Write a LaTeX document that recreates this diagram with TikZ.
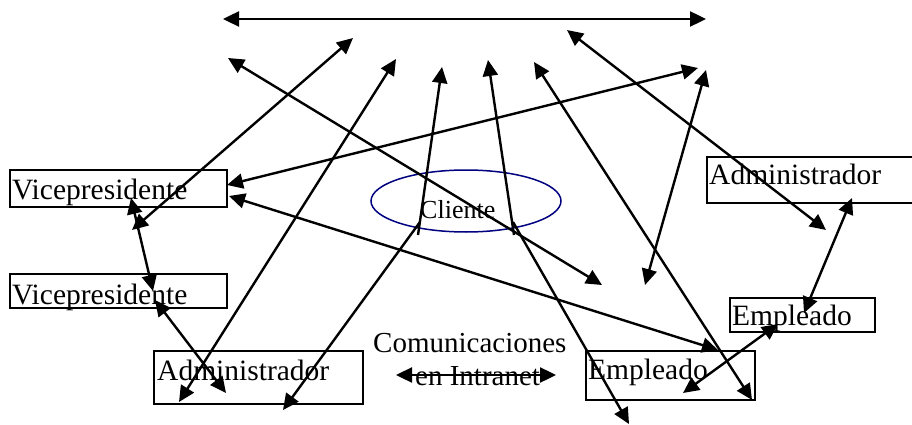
\documentclass[tikz,border=0pt]{standalone}
\usepackage{fontspec}
\setmainfont{Liberation Serif}
\usetikzlibrary{arrows.meta,shapes.geometric}
\definecolor{navy}{RGB}{0,0,128}
\begin{document}
\begin{tikzpicture}[x=1pt,y=-1pt,
  box/.style={draw, line width=1.3pt, inner sep=0pt, outer sep=0pt},
  txt/.style={font=\fontsize{29.5}{30}\selectfont, inner sep=0pt, anchor=base west},
  arr/.style={line width=2.4pt, {Triangle[length=16pt,width=15pt]}-{Triangle[length=16pt,width=15pt]}},
  arrE/.style={line width=2.4pt, -{Triangle[length=16pt,width=15pt]}},
]
\useasboundingbox (0,0) rectangle (912,425);
% boxes
\node[box, minimum width=217pt, minimum height=37pt] (vp1) at (118.5,188.5) {};
\node[box, minimum width=217pt, minimum height=34pt] (vp2) at (118.5,291) {};
\node[box, minimum width=209pt, minimum height=53pt] (adL) at (258.5,377.5) {};
\node[box, minimum width=208pt, minimum height=46pt] (adR) at (811,180) {};
\node[box, minimum width=145pt, minimum height=34pt] (emR) at (802.5,315) {};
\node[box, minimum width=169pt, minimum height=49pt] (emM) at (670.5,375.5) {};
\node[ellipse, draw=navy, line width=1.5pt, minimum width=190pt, minimum height=62pt, inner sep=0pt] (cli) at (466,201) {};
% texts
\node[txt] (vp1t) at (12,199) {Vicepresidente};
\node[txt] (vp2t) at (12,304) {Vicepresidente};
\node[txt] (adLt) at (157,380) {Administrador};
\node[txt] (adRt) at (709,184) {Administrador};
\node[txt] (emRt) at (732,325) {Empleado};
\node[txt] (emMt) at (588,379) {Empleado};
\node[txt, font=\fontsize{26}{27}\selectfont] (cliT) at (420,218) {Cliente};
\node[txt, font=\fontsize{29}{30}\selectfont] (com) at (373,352) {Comunicaciones};
\node[txt, font=\fontsize{29}{30}\selectfont] (intr) at (415,385) {en Intranet};
% arrow end points
\coordinate (a1s) at (223,19);  \coordinate (a1e) at (706,19);
\coordinate (a2s) at (567,30);  \coordinate (a2e) at (826,230);
\coordinate (a3s) at (228,58);  \coordinate (a3e) at (602,285);
\coordinate (a4s) at (353,38);  \coordinate (a4e) at (132,230);
\coordinate (a5s) at (131,198); \coordinate (a5e) at (153,291);
\coordinate (a6s) at (155,300); \coordinate (a6e) at (226,393);
\coordinate (a7s) at (396,59);  \coordinate (a7e) at (179,402);
\coordinate (a8s) at (418,235); \coordinate (a8e) at (442,67);
\coordinate (a9s) at (420,222); \coordinate (a9e) at (283,410);
\coordinate (a10s) at (514,235); \coordinate (a10e) at (488,60);
\coordinate (a11s) at (513,222); \coordinate (a11e) at (629,424);
\coordinate (a12s) at (534,62); \coordinate (a12e) at (752,400);
\coordinate (a13s) at (698,68); \coordinate (a13e) at (227,185);
\coordinate (a14s) at (706,70); \coordinate (a14e) at (645,285);
\coordinate (a15s) at (229,196); \coordinate (a15e) at (718,350);
\coordinate (a16s) at (683,393); \coordinate (a16e) at (778,324);
\coordinate (a17s) at (852,198); \coordinate (a17e) at (804,313);
\coordinate (a18s) at (396,375); \coordinate (a18e) at (556,375);
% arrows
\draw[arr] (a1s) -- (a1e);
\draw[arr] (a2s) -- (a2e);
\draw[arr] (a3s) -- (a3e);
\draw[arr] (a4s) -- (a4e);
\draw[arr] (a5s) -- (a5e);
\draw[arr] (a6s) -- (a6e);
\draw[arr] (a7s) -- (a7e);
\draw[arrE] (a8s) -- (a8e);
\draw[arrE] (a9s) -- (a9e);
\draw[arrE] (a10s) -- (a10e);
\draw[arrE] (a11s) -- (a11e);
\draw[arr] (a12s) -- (a12e);
\draw[arr] (a13s) -- (a13e);
\draw[arr] (a14s) -- (a14e);
\draw[arr] (a15s) -- (a15e);
\draw[arr] (a16s) -- (a16e);
\draw[arr] (a17s) -- (a17e);
\draw[arr] (a18s) -- (a18e);
\end{tikzpicture}
\end{document}
